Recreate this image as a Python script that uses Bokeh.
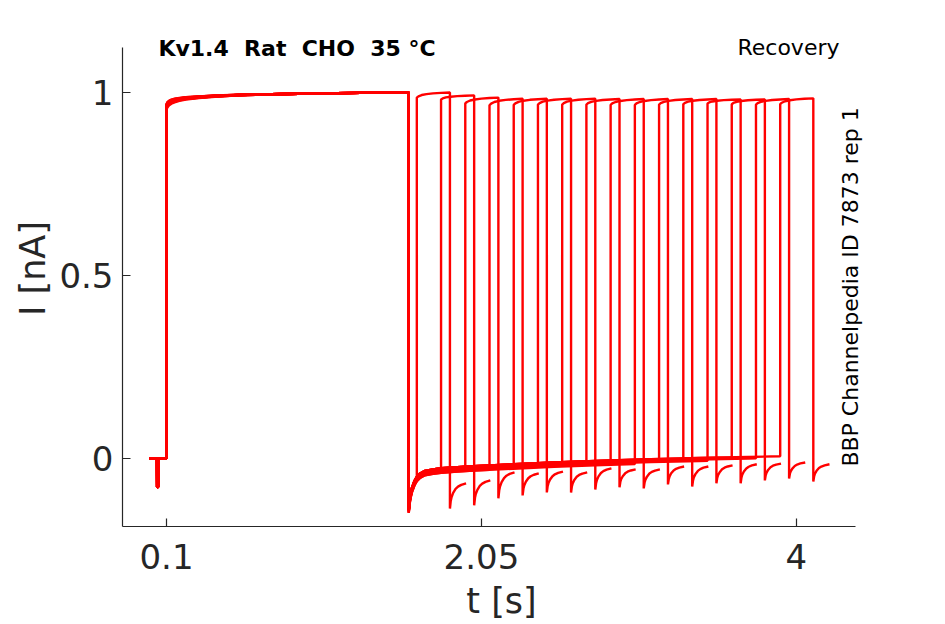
import numpy as np
from bokeh.plotting import figure
from bokeh.models import ColumnDataSource, FixedTicker, Label
from bokeh.embed import file_html
from bokeh.resources import INLINE

# ---------------- data ----------------
x_ticks = [0.1, 2.05, 4]
x_tick_labels = ["0.1", "2.05", "4"]
y_ticks = [0, 0.5, 1]
y_tick_labels = ["0", "0.5", "1"]

# holding period with the small artefact
hold_t = [-0.005, 0.041, 0.042, 0.048, 0.049, 0.1]
hold_i = [0.0, 0.0, -0.078, -0.078, 0.0, 0.0]

# first (long) pulse
main_t = [0.1, 0.105, 0.115, 0.13, 0.15, 0.18, 0.22, 0.3, 0.4, 0.55, 0.75, 1.0, 1.3, 1.6]
main_i = [0.960, 0.966, 0.971, 0.975, 0.978, 0.981, 0.984, 0.987, 0.990, 0.993, 0.995, 0.997, 0.999, 1.0]
main_spread = [1.0, 0.9, 0.8, 0.7, 0.6, 0.5, 0.4, 0.3, 0.2, 0.1, 0.0, 0.0, 0.0, 0.0]
main_start = [0.955, 0.958, 0.960, 0.962, 0.965, 0.968, 0.957, 0.959,
              0.961, 0.963, 0.966, 0.952, 0.956, 0.962, 0.964, 0.967]

# tail after the first pulse
tail_t = [1.6, 1.605, 1.61, 1.62, 1.635, 1.65, 1.67, 1.7, 1.75, 1.8, 1.9, 2.0,
          2.2, 2.5, 2.8, 3.1, 3.4, 3.7, 3.9]
tail_i = [-0.137, -0.115, -0.098, -0.080, -0.062, -0.050, -0.041, -0.034, -0.030,
          -0.027, -0.024, -0.021, -0.017, -0.011, -0.006, -0.002, 0.001, 0.004, 0.006]
tail_offset = [0.0, -0.004, -0.008, -0.012, 0.0, -0.005, -0.010, 0.0,
               -0.006, -0.012, 0.0, -0.004, -0.008, 0.0, -0.004, 0.0]

# second (test) pulses
test_onset = [1.65, 1.80, 1.95, 2.10, 2.25, 2.40, 2.55, 2.70,
              2.85, 3.00, 3.15, 3.30, 3.45, 3.60, 3.75, 3.90]
test_dur = 0.205
test_start = [0.986, 0.981, 0.970, 0.965, 0.966, 0.967, 0.967, 0.967,
              0.966, 0.966, 0.967, 0.968, 0.970, 0.968, 0.967, 0.968]
test_end = [1.000, 0.992, 0.986, 0.983, 0.983, 0.983, 0.983, 0.982,
            0.982, 0.982, 0.982, 0.982, 0.981, 0.981, 0.982, 0.984]
test_rel_t = [0.0, 0.01, 0.03, 0.06, 0.1, 0.15, 0.205]
test_frac = [0.0, 0.25, 0.5, 0.68, 0.82, 0.92, 1.0]

# tails after the test pulses
tail2_bottom = [-0.137, -0.128, -0.109, -0.101, -0.093, -0.093, -0.085, -0.079,
                -0.082, -0.071, -0.077, -0.068, -0.068, -0.060, -0.055, -0.063]
tail2_end = [-0.068, -0.060, -0.038, -0.041, -0.036, -0.038, -0.027, -0.030,
             -0.030, -0.022, -0.022, -0.019, -0.016, -0.014, -0.011, -0.016]
tail2_rel_t = [0.0, 0.005, 0.01, 0.02, 0.035, 0.05, 0.07, 0.1]
tail2_frac = [0.0, 0.3, 0.45, 0.62, 0.78, 0.87, 0.94, 1.0]

# ---------------- build the traces ----------------
xs, ys = [], []
for k in range(len(test_onset)):
    t = list(hold_t)
    y = list(hold_i)
    d = main_start[k] - main_i[0]
    t += main_t
    y += [mi + d * w for mi, w in zip(main_i, main_spread)]
    on = test_onset[k]
    tt = np.array(tail_t)
    ti = np.array(tail_i) + tail_offset[k]
    sel = tt < on
    t += list(tt[sel])
    y += list(ti[sel])
    y_on = float(np.interp(on, tt, ti))
    t += [on]
    y += [y_on]
    for rt, fr in zip(test_rel_t, test_frac):
        t.append(on + rt)
        y.append(test_start[k] + (test_end[k] - test_start[k]) * fr)
    off = on + test_dur
    for rt, fr in zip(tail2_rel_t, tail2_frac):
        t.append(off + rt)
        y.append(tail2_bottom[k] + (tail2_end[k] - tail2_bottom[k]) * fr)
    xs.append(t)
    ys.append(y)

src = ColumnDataSource(dict(xs=xs, ys=ys))

# ---------------- figure ----------------
FONT = "DejaVu Sans"
AX = "#262626"
X_AXIS_RANGE = (-0.1724, 4.365)
Y_AXIS_RANGE = (-0.186, 1.123)
p = figure(width=940, height=624, x_range=(-0.1724, 4.521), y_range=(-0.186, 1.224),
           output_backend="svg", toolbar_location=None,
           min_border_left=122, min_border_right=60, min_border_top=10, min_border_bottom=98)
p.outline_line_color = None
p.xgrid.visible = False
p.ygrid.visible = False
p.background_fill_color = "white"
p.border_fill_color = "white"

p.multi_line("xs", "ys", source=src, line_color="#ff0000", line_width=2.4)

for ax in (p.xaxis[0], p.yaxis[0]):
    ax.axis_line_color = AX
    ax.axis_line_width = 1.2
    ax.major_tick_line_color = AX
    ax.major_tick_line_width = 1.2
    ax.major_tick_in = 8
    ax.major_tick_out = 0
    ax.minor_tick_line_color = None
    ax.major_label_text_font = FONT
    ax.major_label_text_font_size = "34px"
    ax.major_label_text_color = AX
    ax.axis_label_text_font = FONT
    ax.axis_label_text_font_size = "35px"
    ax.axis_label_text_font_style = "normal"
    ax.axis_label_text_color = AX

p.xaxis.bounds = X_AXIS_RANGE
p.yaxis.bounds = Y_AXIS_RANGE
p.xaxis.ticker = FixedTicker(ticks=x_ticks)
p.xaxis.major_label_overrides = {v: s for v, s in zip(x_ticks, x_tick_labels)}
p.yaxis.ticker = FixedTicker(ticks=y_ticks)
p.yaxis.major_label_overrides = {v: s for v, s in zip(y_ticks, y_tick_labels)}
p.xaxis.axis_label = "t [s]"
p.yaxis.axis_label = "I [nA]"
p.xaxis.major_label_standoff = 17
p.yaxis.major_label_standoff = 9
p.xaxis.axis_label_standoff = 9
p.yaxis.axis_label_standoff = 3

p.add_layout(Label(x=0.05, y=1.120, text="Kv1.4 \u00a0Rat \u00a0CHO \u00a035 °C", text_font=FONT,
                   text_font_size="22px", text_font_style="bold", text_color="black",
                   text_align="left", text_baseline="alphabetic"))
p.add_layout(Label(x=4.267, y=1.123, text="Recovery", text_font=FONT,
                   text_font_size="22px", text_color="black",
                   text_align="right", text_baseline="alphabetic"))
p.add_layout(Label(x=4.335, y=0.4686, text="BBP Channelpedia ID 7873 rep 1", text_font=FONT,
                   text_font_size="22px", text_color="black", angle=np.pi / 2,
                   text_align="center", text_baseline="middle"))

open("out.html", "w").write(file_html(p, INLINE))
